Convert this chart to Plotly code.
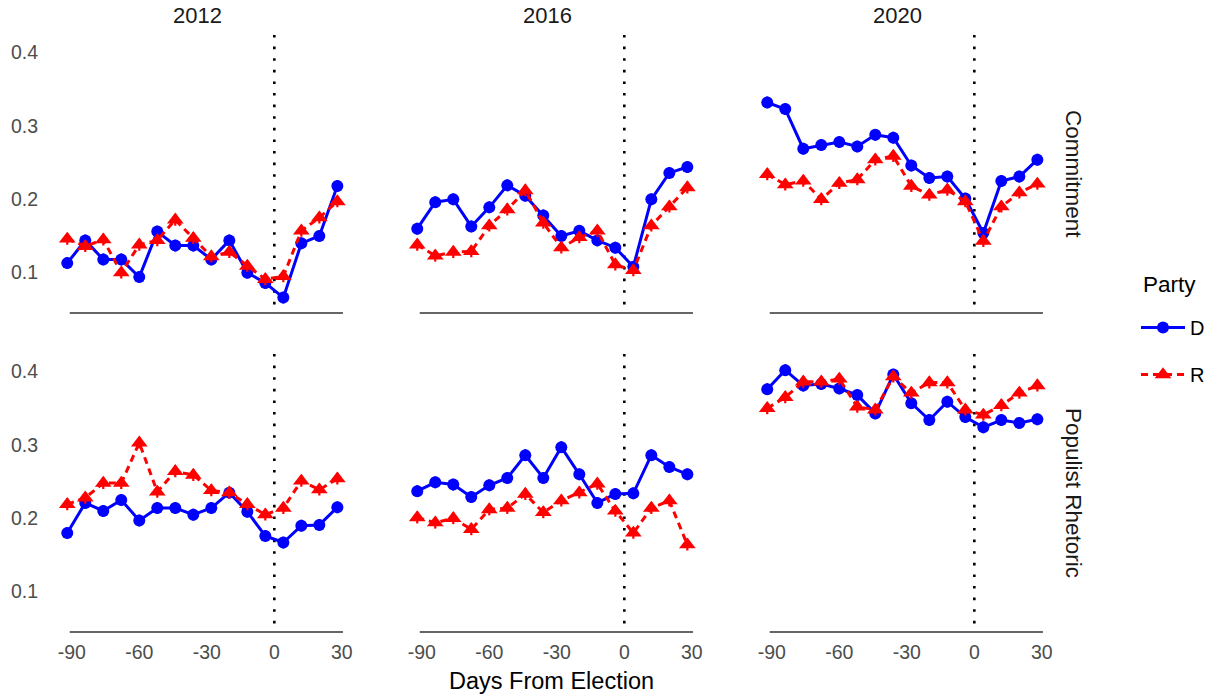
import plotly.graph_objects as go

# ---------------- data ----------------
DAYS = [-92, -84, -76, -68, -60, -52, -44, -36, -28, -20, -12, -4, 4, 12, 20, 28]
YEARS = ["2012", "2016", "2020"]
MEASURES = ["Commitment", "Populist Rhetoric"]
PARTIES = ["D", "R"]
X_TICKS = [-90, -60, -30, 0, 30]
Y_TICKS = [0.1, 0.2, 0.3, 0.4]
SE_EST = 0.008  # approximate half-width of the small point ranges

commit_2012_D = [0.113, 0.144, 0.118, 0.118, 0.094, 0.156, 0.137, 0.137, 0.118, 0.144, 0.100, 0.086, 0.066, 0.140, 0.150, 0.218]
commit_2012_R = [0.146, 0.136, 0.145, 0.100, 0.138, 0.144, 0.172, 0.147, 0.122, 0.128, 0.109, 0.091, 0.095, 0.157, 0.175, 0.197]
commit_2016_D = [0.160, 0.196, 0.200, 0.163, 0.189, 0.219, 0.205, 0.178, 0.150, 0.157, 0.144, 0.134, 0.108, 0.200, 0.236, 0.244]
commit_2016_R = [0.138, 0.123, 0.128, 0.129, 0.164, 0.186, 0.212, 0.168, 0.134, 0.148, 0.157, 0.111, 0.103, 0.164, 0.190, 0.216]
commit_2020_D = [0.332, 0.323, 0.269, 0.274, 0.278, 0.272, 0.288, 0.284, 0.246, 0.229, 0.231, 0.201, 0.154, 0.225, 0.231, 0.254]
commit_2020_R = [0.234, 0.220, 0.225, 0.200, 0.222, 0.227, 0.254, 0.259, 0.218, 0.206, 0.213, 0.197, 0.143, 0.190, 0.209, 0.221]

pop_2012_D = [0.180, 0.221, 0.210, 0.225, 0.197, 0.214, 0.214, 0.205, 0.214, 0.235, 0.209, 0.176, 0.167, 0.190, 0.191, 0.215]
pop_2012_R = [0.219, 0.228, 0.248, 0.248, 0.303, 0.236, 0.264, 0.259, 0.238, 0.235, 0.219, 0.205, 0.214, 0.251, 0.239, 0.254]
pop_2016_D = [0.237, 0.249, 0.246, 0.229, 0.245, 0.255, 0.286, 0.255, 0.297, 0.260, 0.221, 0.233, 0.234, 0.286, 0.270, 0.260]
pop_2016_R = [0.201, 0.194, 0.200, 0.185, 0.212, 0.214, 0.233, 0.208, 0.224, 0.235, 0.247, 0.210, 0.180, 0.214, 0.224, 0.164]
pop_2020_D = [0.376, 0.402, 0.381, 0.383, 0.377, 0.368, 0.343, 0.396, 0.357, 0.334, 0.359, 0.338, 0.324, 0.334, 0.330, 0.335]
pop_2020_R = [0.350, 0.365, 0.386, 0.386, 0.390, 0.352, 0.348, 0.393, 0.371, 0.385, 0.385, 0.348, 0.341, 0.354, 0.371, 0.381]

SERIES = {
    ("Commitment", "2012"): (commit_2012_D, commit_2012_R),
    ("Commitment", "2016"): (commit_2016_D, commit_2016_R),
    ("Commitment", "2020"): (commit_2020_D, commit_2020_R),
    ("Populist Rhetoric", "2012"): (pop_2012_D, pop_2012_R),
    ("Populist Rhetoric", "2016"): (pop_2016_D, pop_2016_R),
    ("Populist Rhetoric", "2020"): (pop_2020_D, pop_2020_R),
}

# ---------------- layout geometry (page pixels) ----------------
W, H = 1225, 697
FONT = "Liberation Sans, Arial, sans-serif"


def px(x):
    return x / W


def py(y):
    return 1 - y / H


COL_LEFT = [56, 406, 756]
COL_W = 290.8
ROW_TOP = [35, 354]
ROW_H = 278
X_RANGE = [-97, 32.2]
Y_RANGE = [0.045, 0.424]

STYLE = {
    "D": dict(color="#0000FF", dash="solid", symbol="circle", msize=12),
    "R": dict(color="#FF0000", dash="7px,5px", symbol="triangle-up", msize=14.5),
}

fig = go.Figure()
layout = {}
shapes = []
annotations = []

idx = 0
for r, measure in enumerate(MEASURES):
    for c, year in enumerate(YEARS):
        idx += 1
        xa = "x" if idx == 1 else f"x{idx}"
        ya = "y" if idx == 1 else f"y{idx}"
        xkey = "xaxis" if idx == 1 else f"xaxis{idx}"
        ykey = "yaxis" if idx == 1 else f"yaxis{idx}"
        layout[xkey] = dict(
            domain=[px(COL_LEFT[c]), px(COL_LEFT[c] + COL_W)], range=X_RANGE, anchor=ya,
            tickvals=X_TICKS, ticktext=[str(v) for v in X_TICKS],
            showticklabels=(r == 1), showgrid=False, zeroline=False,
            showline=False, ticks="", ticklabelstandoff=6,
            tickfont=dict(family=FONT, size=19.5, color="#4d4d4d"),
        )
        layout[ykey] = dict(
            domain=[py(ROW_TOP[r] + ROW_H), py(ROW_TOP[r])], range=Y_RANGE, anchor=xa,
            tickvals=Y_TICKS, ticktext=[f"{v:.1f}" for v in Y_TICKS],
            showticklabels=(c == 0), showgrid=False, zeroline=False,
            showline=False, ticks="", ticklabelstandoff=17,
            tickfont=dict(family=FONT, size=19.5, color="#4d4d4d"),
        )
        # bottom axis line
        shapes.append(dict(type="line", xref=xa, yref=f"{ya} domain",
                           x0=-90.9, x1=30.5, y0=0, y1=0,
                           line=dict(color="#333333", width=1.4), layer="below"))
        # election-day reference line
        shapes.append(dict(type="line", xref=xa, yref=f"{ya} domain",
                           x0=0, x1=0, y0=1, y1=0,
                           line=dict(color="black", width=2.6, dash="2.6px,9px"), layer="below"))

        d_vals, r_vals = SERIES[(measure, year)]
        for party, vals in zip(PARTIES, (d_vals, r_vals)):
            st = STYLE[party]
            fig.add_trace(go.Scatter(
                x=DAYS, y=vals, xaxis=xa, yaxis=ya,
                mode="lines+markers", name=party, legendgroup=party,
                showlegend=(idx == 1), cliponaxis=False,
                line=dict(color=st["color"], width=3, dash=st["dash"]),
                marker=dict(color=st["color"], symbol=st["symbol"], size=st["msize"], line=dict(width=0)),
                error_y=dict(type="constant", value=SE_EST, color=st["color"], thickness=2.2, width=0),
            ))

# strip labels (columns)
for c, year in enumerate(YEARS):
    annotations.append(dict(text=year, x=px(COL_LEFT[c] + COL_W / 2 - 4), y=py(16),
                            xref="paper", yref="paper", showarrow=False, borderpad=0,
                            font=dict(family=FONT, size=22, color="#1a1a1a"),
                            xanchor="center", yanchor="middle"))
# strip labels (rows)
for r, measure in enumerate(MEASURES):
    annotations.append(dict(text=measure, x=px(1074), y=py(ROW_TOP[r] + ROW_H / 2),
                            xref="paper", yref="paper", showarrow=False, textangle=90,
                            font=dict(family=FONT, size=22.5, color="#1a1a1a"),
                            xanchor="center", yanchor="middle"))
# x-axis title
annotations.append(dict(text="Days From Election", x=px(551), y=py(681),
                        xref="paper", yref="paper", showarrow=False,
                        font=dict(family=FONT, size=23.5, color="#000000"),
                        xanchor="center", yanchor="middle"))
# legend title
annotations.append(dict(text="Party", x=px(1141), y=py(284),
                        xref="paper", yref="paper", showarrow=False,
                        font=dict(family=FONT, size=22.5, color="#000000"),
                        xanchor="left", yanchor="middle"))

fig.update_layout(
    width=W, height=H,
    margin=dict(l=0, r=0, t=0, b=0, autoexpand=False),
    paper_bgcolor="white", plot_bgcolor="white",
    font=dict(family=FONT),
    shapes=shapes, annotations=annotations,
    hovermode=False,
    legend=dict(
        x=px(1136), y=py(308), xanchor="left", yanchor="top",
        font=dict(family=FONT, size=20, color="#000000"),
        tracegroupgap=18, itemwidth=44, bgcolor="rgba(0,0,0,0)",
    ),
    **layout,
)

# remove the page's default body margin so the figure fills the window exactly
fig.write_html("out.html", config={"displayModeBar": False},
               post_script="document.body.style.margin='0px';")
